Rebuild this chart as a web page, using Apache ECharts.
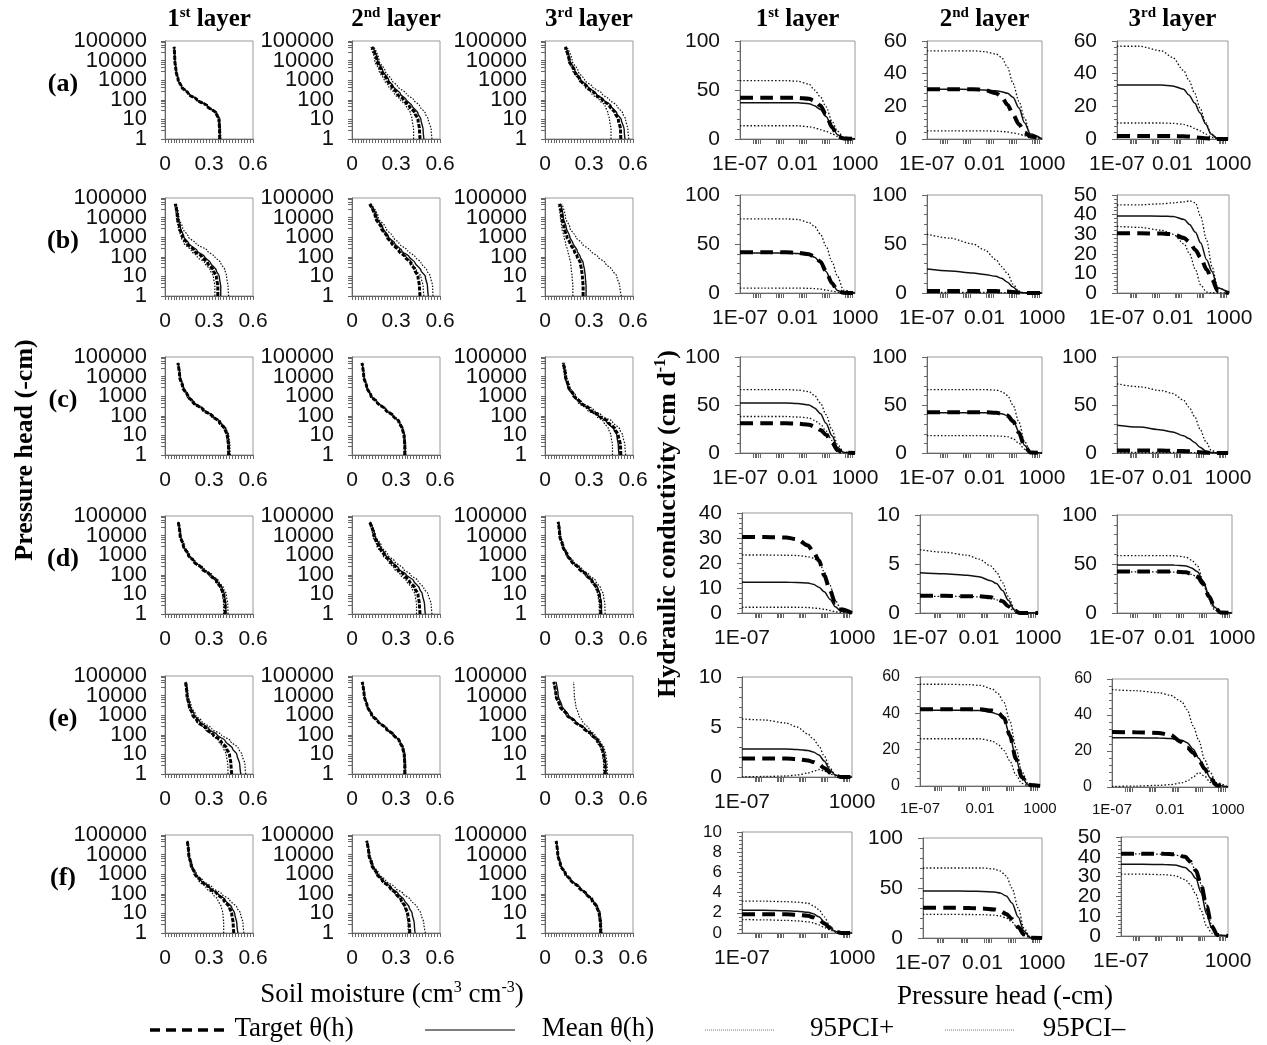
<!DOCTYPE html>
<html>
<head>
<meta charset="utf-8">
<script src="https://cdn.jsdelivr.net/npm/echarts@6/dist/echarts.min.js"></script>
<style>
  html, body { margin: 0; background: #fff; }
  #chart { width: 1267px; height: 1045px; }
</style>
</head>
<body>
<div id="chart"></div>
<script>
// pressure head samples (cm) for the theta(h) panels (left block)
var hLeft = [1, 3, 10, 20, 50, 100, 200, 500, 1000, 3000, 10000, 50000];
// pressure head samples (cm) for the K(h) panels (right block)
var hRight = [1e-7, 1e-5, 1e-3, 0.01, 0.1, 0.3, 1, 3, 10, 30, 100, 1000];
// tick labels of the pressure head axis in the theta panels
var hLeftTicks = [1, 10, 100, 1000, 10000, 100000];

// soil moisture (cm3 cm-3) at hLeft, rows a-f, layers 1-3
var thetaA1 = { target: [0.373,0.372,0.368,0.35,0.285,0.218,0.16,0.11,0.09,0.075,0.067,0.062],
                mean:   [0.376,0.375,0.37,0.352,0.288,0.22,0.162,0.112,0.091,0.076,0.068,0.063],
                upper:  [0.38,0.379,0.374,0.357,0.293,0.225,0.166,0.115,0.094,0.078,0.07,0.065],
                lower:  [0.37,0.369,0.364,0.346,0.282,0.214,0.157,0.108,0.088,0.073,0.065,0.06] };
var thetaA2 = { target: [0.464,0.46,0.45,0.43,0.39,0.35,0.31,0.27,0.24,0.2,0.17,0.136],
                mean:   [0.49,0.485,0.47,0.45,0.41,0.37,0.33,0.28,0.25,0.21,0.175,0.14],
                upper:  [0.545,0.54,0.52,0.5,0.46,0.42,0.37,0.31,0.27,0.225,0.185,0.15],
                lower:  [0.42,0.42,0.41,0.4,0.37,0.33,0.29,0.25,0.22,0.185,0.155,0.125] };
var thetaA3 = { target: [0.517,0.515,0.5,0.48,0.44,0.39,0.34,0.28,0.24,0.2,0.165,0.138],
                mean:   [0.545,0.54,0.52,0.49,0.45,0.4,0.35,0.29,0.245,0.205,0.17,0.14],
                upper:  [0.572,0.565,0.55,0.53,0.49,0.44,0.39,0.32,0.27,0.225,0.185,0.15],
                lower:  [0.45,0.45,0.44,0.43,0.41,0.37,0.32,0.27,0.23,0.19,0.16,0.13] };
var thetaB1 = { target: [0.36,0.36,0.35,0.33,0.29,0.25,0.2,0.15,0.12,0.1,0.085,0.07],
                mean:   [0.38,0.38,0.37,0.35,0.31,0.27,0.22,0.16,0.13,0.105,0.088,0.072],
                upper:  [0.434,0.43,0.42,0.41,0.38,0.34,0.29,0.21,0.16,0.12,0.095,0.078],
                lower:  [0.34,0.34,0.33,0.31,0.27,0.22,0.18,0.13,0.11,0.09,0.078,0.065] };
var thetaB2 = { target: [0.464,0.46,0.45,0.43,0.4,0.36,0.32,0.27,0.24,0.2,0.16,0.12],
                mean:   [0.52,0.515,0.5,0.47,0.43,0.39,0.34,0.29,0.25,0.21,0.17,0.125],
                upper:  [0.552,0.55,0.535,0.51,0.47,0.43,0.38,0.32,0.28,0.23,0.18,0.13],
                lower:  [0.49,0.485,0.47,0.44,0.41,0.37,0.33,0.28,0.24,0.2,0.16,0.115] };
var thetaB3 = { target: [0.26,0.26,0.255,0.25,0.24,0.22,0.2,0.17,0.15,0.13,0.115,0.1],
                mean:   [0.28,0.28,0.275,0.27,0.26,0.24,0.22,0.19,0.17,0.145,0.125,0.105],
                upper:  [0.52,0.51,0.49,0.46,0.41,0.36,0.31,0.25,0.21,0.17,0.14,0.115],
                lower:  [0.19,0.19,0.185,0.18,0.175,0.165,0.155,0.14,0.13,0.115,0.105,0.09] };
var thetaC1 = { target: [0.434,0.433,0.425,0.41,0.37,0.32,0.26,0.19,0.155,0.12,0.1,0.088],
                mean:   [0.438,0.437,0.43,0.415,0.375,0.325,0.265,0.195,0.16,0.124,0.103,0.09],
                upper:  [0.445,0.443,0.435,0.42,0.38,0.33,0.27,0.2,0.163,0.127,0.105,0.092],
                lower:  [0.43,0.428,0.42,0.405,0.365,0.315,0.255,0.185,0.15,0.117,0.097,0.085] };
var thetaC2 = { target: [0.36,0.36,0.355,0.345,0.32,0.28,0.23,0.17,0.13,0.1,0.08,0.068],
                mean:   [0.362,0.362,0.357,0.347,0.322,0.282,0.232,0.172,0.132,0.101,0.081,0.069],
                upper:  [0.366,0.366,0.36,0.35,0.326,0.286,0.236,0.175,0.135,0.103,0.083,0.071],
                lower:  [0.356,0.356,0.351,0.341,0.316,0.276,0.226,0.167,0.127,0.098,0.078,0.066] };
var thetaC3 = { target: [0.517,0.515,0.5,0.48,0.43,0.37,0.31,0.24,0.2,0.16,0.14,0.124],
                mean:   [0.505,0.5,0.49,0.47,0.42,0.365,0.305,0.235,0.195,0.158,0.138,0.122],
                upper:  [0.55,0.545,0.53,0.51,0.46,0.39,0.33,0.25,0.21,0.17,0.148,0.13],
                lower:  [0.46,0.46,0.45,0.435,0.4,0.35,0.29,0.225,0.19,0.153,0.133,0.118] };
var thetaD1 = { target: [0.41,0.41,0.4,0.385,0.35,0.305,0.255,0.195,0.16,0.125,0.103,0.09],
                mean:   [0.415,0.414,0.405,0.39,0.355,0.31,0.26,0.198,0.162,0.127,0.105,0.091],
                upper:  [0.43,0.428,0.418,0.4,0.365,0.32,0.268,0.205,0.168,0.132,0.108,0.094],
                lower:  [0.4,0.4,0.392,0.378,0.343,0.298,0.25,0.19,0.155,0.121,0.1,0.087] };
var thetaD2 = { target: [0.464,0.46,0.45,0.43,0.39,0.35,0.31,0.26,0.22,0.18,0.15,0.12],
                mean:   [0.5,0.495,0.48,0.46,0.42,0.37,0.32,0.27,0.23,0.19,0.155,0.122],
                upper:  [0.545,0.54,0.52,0.49,0.45,0.4,0.35,0.29,0.245,0.2,0.16,0.125],
                lower:  [0.44,0.44,0.43,0.41,0.37,0.33,0.29,0.245,0.21,0.17,0.142,0.115] };
var thetaD3 = { target: [0.38,0.38,0.37,0.355,0.32,0.28,0.235,0.18,0.15,0.12,0.1,0.09],
                mean:   [0.385,0.384,0.375,0.36,0.325,0.285,0.24,0.184,0.153,0.122,0.102,0.091],
                upper:  [0.41,0.408,0.398,0.38,0.345,0.3,0.252,0.193,0.16,0.128,0.107,0.095],
                lower:  [0.37,0.37,0.36,0.346,0.312,0.273,0.228,0.175,0.146,0.117,0.097,0.087] };
var thetaE1 = { target: [0.455,0.45,0.44,0.42,0.38,0.33,0.28,0.22,0.19,0.165,0.15,0.14],
                mean:   [0.517,0.51,0.49,0.46,0.41,0.355,0.3,0.235,0.2,0.17,0.153,0.142],
                upper:  [0.55,0.545,0.525,0.5,0.445,0.385,0.32,0.25,0.21,0.178,0.158,0.146],
                lower:  [0.43,0.428,0.418,0.4,0.365,0.32,0.272,0.215,0.185,0.16,0.146,0.136] };
var thetaE2 = { target: [0.36,0.36,0.356,0.347,0.322,0.283,0.235,0.175,0.135,0.103,0.083,0.07],
                mean:   [0.362,0.362,0.358,0.349,0.324,0.285,0.237,0.177,0.137,0.104,0.084,0.071],
                upper:  [0.366,0.366,0.362,0.353,0.328,0.289,0.241,0.18,0.14,0.106,0.086,0.073],
                lower:  [0.356,0.356,0.352,0.343,0.318,0.279,0.231,0.171,0.131,0.1,0.08,0.067] };
var thetaE3 = { target: [0.41,0.41,0.4,0.39,0.36,0.32,0.27,0.2,0.15,0.1,0.075,0.06],
                mean:   [0.415,0.414,0.405,0.395,0.365,0.325,0.275,0.205,0.16,0.115,0.09,0.075],
                upper:  [0.425,0.424,0.415,0.405,0.375,0.34,0.3,0.255,0.23,0.21,0.2,0.195],
                lower:  [0.4,0.4,0.392,0.38,0.35,0.31,0.26,0.19,0.145,0.1,0.072,0.058] };
var thetaF1 = { target: [0.469,0.465,0.455,0.44,0.4,0.355,0.3,0.24,0.205,0.178,0.162,0.152],
                mean:   [0.497,0.49,0.475,0.455,0.41,0.36,0.305,0.243,0.207,0.18,0.163,0.153],
                upper:  [0.538,0.532,0.515,0.49,0.44,0.385,0.325,0.255,0.215,0.185,0.167,0.156],
                lower:  [0.4,0.4,0.395,0.385,0.36,0.325,0.28,0.228,0.198,0.173,0.158,0.149] };
var thetaF2 = { target: [0.395,0.39,0.38,0.365,0.335,0.3,0.26,0.205,0.17,0.135,0.115,0.1],
                mean:   [0.43,0.425,0.41,0.39,0.355,0.315,0.27,0.212,0.175,0.138,0.117,0.101],
                upper:  [0.5,0.49,0.47,0.445,0.4,0.35,0.295,0.228,0.185,0.145,0.122,0.105],
                lower:  [0.385,0.382,0.372,0.358,0.33,0.295,0.255,0.2,0.166,0.132,0.112,0.098] };
var thetaF3 = { target: [0.38,0.378,0.37,0.355,0.32,0.28,0.235,0.175,0.14,0.105,0.087,0.076],
                mean:   [0.383,0.381,0.373,0.358,0.323,0.283,0.238,0.178,0.142,0.107,0.088,0.077],
                upper:  [0.388,0.386,0.378,0.363,0.328,0.288,0.242,0.181,0.145,0.109,0.09,0.079],
                lower:  [0.375,0.373,0.365,0.35,0.315,0.275,0.23,0.171,0.137,0.102,0.085,0.074] };

// hydraulic conductivity (cm d-1) at hRight, rows a-f, layers 1-3
var kA1 = { target: [42,42,42,42,41,39,34,25,12,3,0.5,0],
            mean:   [37,37,37,37,36,34,30,23,13,4.4,0.5,0],
            upper:  [59.5,59.5,59.5,59,56,50,43,33,18,8,2,0],
            lower:  [13.5,13.5,13.5,13.5,12.5,11.5,9.5,7.8,5.4,2.7,0.5,0] };
var kA2 = { target: [30.5,30.5,30.5,30,28,26,21,15,9,4,1.5,0],
            mean:   [30.5,30.5,30.3,30,29.5,29,28,25.5,19,10,3,0],
            upper:  [54,54,54,53.5,52,50,44,34,23,13,2,0],
            lower:  [5,5,5,5,4.8,4.6,4.3,3.7,3,2,1,0] };
var kA3 = { target: [1.8,1.8,1.8,1.8,1.7,1.5,1.2,0.8,0.4,0.1,0,0],
            mean:   [33,33,33,32.5,30.5,27,22,16,9,3,0.5,0],
            upper:  [56.8,56.8,54,50,42,36,28,19,10,3,0.5,0],
            lower:  [9.8,9.8,9.8,9.6,9,8,6.5,5,3,1.2,0.3,0] };
var kB1 = { target: [41.5,41.5,41.5,41,39.5,37,32,22,10,2.5,0.3,0],
            mean:   [40.7,40.7,40.7,40.3,39,36.5,31,22,10,2.5,0.3,0],
            upper:  [75.6,75.6,75.6,75,72,68,60,48,32,17,3,0],
            lower:  [5,5,5,5,4.8,4.5,4,3,2,0.8,0.1,0] };
var kB2 = { target: [2,2,2,2,2,1.8,1.5,1,0.5,0.2,0,0],
            mean:   [24.4,22.5,20.5,19,17,15,11,6,1,0.2,0,0],
            upper:  [60,56,50,44,34,27,20,9,1.5,0.2,0,0],
            lower:  [0.5,0.5,0.5,0.5,0.5,0.4,0.3,0.2,0.1,0,0,0] };
var kB3 = { target: [30.5,30.5,30.3,30,28,26,22,18,12,7,1,0],
            mean:   [39.3,39.3,39.2,39,37.5,35,31,25.5,17,11,2.5,0],
            upper:  [44.9,45,45.5,46,46.5,47,46,39,27,13.5,2.7,0],
            lower:  [34,33.5,32,30,25,20,12,4,0.5,0,0,0] };
var kC1 = { target: [31,31,31,30.5,29.5,27.5,24,19,11,3,0.2,0],
            mean:   [52,52,52,51.5,50,47,41,31,18,6,0.5,0],
            upper:  [66,66,66,65.5,64,60,52,40,24,9,1,0],
            lower:  [38,38,38,37.5,36.5,34,30,23,13,4,0.3,0] };
var kC2 = { target: [42.5,42.5,42.5,42.5,42,41,39,33,21,7,0.5,0],
            mean:   [42,42,42,42,41.5,41,39,34,22,8,0.5,0],
            upper:  [66,66,66,66,65.5,64,60,50,32,12,1,0],
            lower:  [18,18,18,18,17.8,17.5,17,15,10,4,0.3,0] };
var kC3 = { target: [2.5,2.5,2.5,2.3,2,1.7,1.3,0.8,0.3,0.1,0,0],
            mean:   [29,27,24,22,18,15,11,6,2,0.5,0,0],
            upper:  [72,69,65,62,55,48,38,25,12,3,0.5,0],
            lower:  [0.5,0.5,0.5,0.5,0.5,0.4,0.3,0.2,0.1,0,0,0] };
var kD1 = { target: [30.4,30.4,30.2,29.5,27,24.5,21,15,9,4,1.5,0],
            mean:   [12.3,12.3,12.3,12.2,12,11.5,10.3,8.5,5.5,2.5,0.7,0],
            upper:  [23.2,23.2,23.1,23,22.5,22,20.5,16.5,11,5,1.5,0],
            lower:  [2.3,2.3,2.3,2.3,2.2,2,1.8,1.5,1,0.5,0.2,0] };
var kD2 = { target: [1.75,1.75,1.7,1.7,1.6,1.4,1.2,0.7,0.2,0,0,0],
            mean:   [4.1,4,3.85,3.7,3.3,3,2.3,1.3,0.3,0.05,0,0],
            upper:  [6.45,6.2,5.9,5.5,4.8,4.2,3.1,1.7,0.4,0.1,0,0],
            lower:  [1.7,1.7,1.68,1.65,1.55,1.35,1.1,0.6,0.2,0,0,0] };
var kD3 = { target: [42.3,42.3,42.3,42.2,41.5,40,37,30,17,6,0.5,0],
            mean:   [49.1,49.1,49.1,49,48,46,42,33,18,6,0.5,0],
            upper:  [58.6,58.6,58.6,58.4,57,54,48,33,14,3.5,0.5,0],
            lower:  [42,42,42,41.8,41,39.5,36.5,29.5,16.5,5.5,0.5,0] };
var kE1 = { target: [1.85,1.85,1.85,1.8,1.65,1.5,1.25,0.9,0.45,0.15,0,0],
            mean:   [2.8,2.8,2.8,2.75,2.65,2.5,2.2,1.6,0.7,0.2,0,0],
            upper:  [5.8,5.7,5.4,5,4.3,3.8,3.1,2.1,0.9,0.2,0,0],
            lower:  [0.02,0.05,0.1,0.2,0.4,0.55,0.75,0.6,0.3,0.1,0,0] };
var kE2 = { target: [42.3,42.3,42.3,42.2,41.5,40.5,37.5,28,15,5,0.5,0],
            mean:   [41.7,41.7,41.7,41.5,40.5,39.5,37,28,15,5,0.5,0],
            upper:  [56,56,55.8,55.4,53.5,51,46,36,21,8,1.5,0],
            lower:  [26,26,26,26,24.8,23,19.5,14,6,1.5,0.2,0] };
var kE3 = { target: [30.5,30.4,30,29,25,22,19,15,10,5,1,0],
            mean:   [27.3,27.3,27.2,27,26,24.6,21,16,10,5,1,0],
            upper:  [54.1,53.5,52.4,51,47.5,43,34,26,15,8,2.4,0],
            lower:  [0.3,0.5,0.9,1.3,2.3,3.3,5.5,8,6,2.5,0.5,0] };
var kF1 = { target: [1.85,1.85,1.85,1.8,1.7,1.55,1.3,0.95,0.5,0.15,0,0],
            mean:   [2.25,2.25,2.2,2.15,2.05,1.9,1.6,1.1,0.5,0.15,0,0],
            upper:  [3.15,3.15,3.1,3.05,2.95,2.7,2.3,1.6,0.7,0.2,0,0],
            lower:  [1.33,1.3,1.25,1.2,1.1,1,0.8,0.55,0.3,0.1,0,0] };
var kF2 = { target: [30.2,30.2,30,29.5,28.5,27,24,19,11,3.5,0.3,0],
            mean:   [47,47,46.8,46.5,46,45,42,35,21,7,0.5,0],
            upper:  [70,70,70,70,69,67,62,50,30,10,1,0],
            lower:  [23.6,23.6,23.5,23.3,22.8,22,20,16,9,3,0.3,0] };
var kF3 = { target: [41.6,41.6,41.5,41.3,40,37.5,33,26,15,5,0.5,0],
            mean:   [36.2,36.2,36.1,35.9,34.6,32.5,29,22,11,4,0.5,0],
            upper:  [41.5,41.5,41.3,41,39.8,37.5,33,26.5,15.5,5.5,0.5,0],
            lower:  [31.2,31.2,31,30.5,28.5,26,21,13,5,1.5,0.2,0] };

// K axis: max and label step for each panel
var kMax  = [[100, 60, 60], [100, 100, 50], [100, 100, 100], [40, 10, 100], [10, 60, 60], [10, 100, 50]];
var kStep = [[50, 20, 20], [50, 50, 10], [50, 50, 50], [10, 5, 50], [5, 20, 20], [2, 50, 10]];
// whether the 0.01 label is shown on the pressure head axis
var headMid = [[1, 1, 1], [1, 1, 1], [1, 1, 1], [0, 1, 1], [0, 1, 1], [0, 1, 0]];

var rowNames = ['(a)', '(b)', '(c)', '(d)', '(e)', '(f)'];

var thetaPanels = [[thetaA1, thetaA2, thetaA3], [thetaB1, thetaB2, thetaB3], [thetaC1, thetaC2, thetaC3],
                   [thetaD1, thetaD2, thetaD3], [thetaE1, thetaE2, thetaE3], [thetaF1, thetaF2, thetaF3]];
var kPanels = [[kA1, kA2, kA3], [kB1, kB2, kB3], [kC1, kC2, kC3],
               [kD1, kD2, kD3], [kE1, kE2, kE3], [kF1, kF2, kF3]];

// ---- layout ----
var leftX = [165, 352, 545], leftW = 88;
var rowTop = [41, 198, 357, 516, 676, 835], rowH = 98;
var rightBox = [
  [[740, 41, 115, 98], [927, 41, 115, 98], [1117, 41, 111, 98]],
  [[740, 195, 115, 98], [927, 195, 115, 98], [1117, 195, 112, 98]],
  [[740, 357, 115, 96], [927, 357, 115, 96], [1117, 357, 111, 96]],
  [[742, 513, 110, 100], [920, 515, 118, 98], [1117, 515, 115, 98]],
  [[742, 677, 110, 100], [920, 677, 120, 109], [1112, 679, 116, 108]],
  [[742, 832, 110, 101], [923, 838, 119, 100], [1121, 837, 107, 99]]
];
var rightYFont = [[21, 21, 21], [21, 21, 21], [21, 21, 21], [21, 21, 21], [21, 16, 16], [17, 21, 21]];
var rightXFont = [[21, 21, 21], [21, 21, 21], [21, 21, 21], [21, 21, 21], [21, 15, 15], [21, 21, 21]];

// tick marks on the pressure head axis of the K panels: a small cluster in every second decade
var headTicks = [];
[-7, -5, -3, -1, 1].forEach(function (e) {
  [15, 20, 28, 40, 55].forEach(function (f) { headTicks.push(f * Math.pow(10, e)); });
});

var chart = echarts.init(document.getElementById('chart'));

var sans = 'Liberation Sans, Arial, sans-serif';
var serif = 'Liberation Serif, DejaVu Serif, serif';
var ink = '#111';
var axisGray = '#666';

var leftStyle = {
  lower:  { width: 1.2, type: [1.5, 1.5], color: ink },
  upper:  { width: 1.2, type: [1.5, 1.5], color: ink },
  mean:   { width: 1.4, type: 'solid', color: ink },
  target: { width: 3, type: [4, 1.5], color: '#000' }
};
var rightStyle = {
  lower:  { width: 1.3, type: [1.5, 2], color: ink },
  upper:  { width: 1.3, type: [1.5, 2], color: ink },
  mean:   { width: 1.5, type: 'solid', color: ink },
  target: { width: 4, type: [13, 7], color: '#000' }
};
var order = ['lower', 'upper', 'mean', 'target'];

var grids = [], xAxes = [], yAxes = [], series = [];

function headLabel(v) {
  var e = Math.round(Math.log(v) / Math.LN10);
  if (e < -4) return '1E-07';
  if (e < 0) return '0.01';
  return '1000';
}

// labels are split over two overlaid left axes (every other value) so that tightly packed labels all stay visible
function labelAxis(base, values, parity, withLine) {
  var ax = {};
  for (var k in base) ax[k] = base[k];
  ax.position = 'left';
  ax.offset = 0;
  ax.axisLabel = {};
  for (var k2 in base.axisLabel) ax.axisLabel[k2] = base.axisLabel[k2];
  ax.axisLabel.customValues = values.filter(function (v, i) { return i % 2 === parity; });
  if (!withLine) {
    ax.axisLine = { show: false };
    ax.axisTick = { show: false };
    ax.minorTick = { show: false };
  }
  return ax;
}

function addTheta(r, c) {
  var gi = grids.length;
  var d = thetaPanels[r][c];
  grids.push({ left: leftX[c], top: rowTop[r], width: leftW, height: rowH,
    show: true, borderColor: '#999', borderWidth: 1 });
  var xi = xAxes.length;
  xAxes.push({
    gridIndex: gi, type: 'value', min: 0, max: 0.6, interval: 0.3, position: 'bottom',
    axisLine: { lineStyle: { color: axisGray } },
    axisTick: { length: 4, lineStyle: { color: axisGray } },
    minorTick: { show: true, splitNumber: 15, length: 4, lineStyle: { color: axisGray } },
    splitLine: { show: false },
    axisLabel: { fontFamily: sans, fontSize: 21, color: ink, margin: 15,
      showMinLabel: true, showMaxLabel: true }
  });
  var yBase = {
    gridIndex: gi, type: 'log', logBase: 10, min: 1, max: 100000,
    axisLine: { lineStyle: { color: axisGray } },
    axisTick: { length: 4, lineStyle: { color: axisGray } },
    minorTick: { show: true, splitNumber: 5, length: 4, lineStyle: { color: axisGray } },
    splitLine: { show: false },
    axisLabel: { fontFamily: sans, fontSize: 22, color: ink, margin: 18,
      formatter: function (v) { return String(Math.round(v)); } }
  };
  var yi = yAxes.length;
  yAxes.push(labelAxis(yBase, hLeftTicks, 0, true));
  yAxes.push(labelAxis(yBase, hLeftTicks, 1, false));
  order.forEach(function (key) {
    series.push({
      type: 'line', xAxisIndex: xi, yAxisIndex: yi,
      data: hLeft.map(function (h, j) { return [d[key][j], h]; }),
      showSymbol: false, smooth: 0.3, smoothMonotone: 'y', silent: true,
      lineStyle: leftStyle[key]
    });
  });
}

function addK(r, c) {
  var gi = grids.length;
  var d = kPanels[r][c];
  var b = rightBox[r][c];
  grids.push({ left: b[0], top: b[1], width: b[2], height: b[3],
    show: true, borderColor: '#999', borderWidth: 1 });
  var xi = xAxes.length;
  xAxes.push({
    gridIndex: gi, type: 'log', logBase: 10, min: 1e-7, max: 1000, position: 'bottom',
    axisLine: { lineStyle: { color: axisGray } },
    axisTick: { show: true, length: 5, customValues: headTicks, lineStyle: { color: axisGray } },
    minorTick: { show: false },
    splitLine: { show: false },
    axisLabel: {
      fontFamily: sans, fontSize: rightXFont[r][c], color: ink, margin: 15,
      customValues: headMid[r][c] ? [1e-7, 0.01, 1000] : [1e-7, 1000],
      formatter: headLabel
    }
  });
  var kTicks = [];
  for (var v = 0; v <= kMax[r][c] + 1e-9; v += kStep[r][c]) kTicks.push(v);
  var yBase = {
    gridIndex: gi, type: 'value', min: 0, max: kMax[r][c], interval: kStep[r][c],
    axisLine: { show: true, lineStyle: { color: axisGray } },
    axisTick: { show: true, length: 5, lineStyle: { color: axisGray } },
    minorTick: { show: true, splitNumber: 5, length: 3, lineStyle: { color: axisGray } },
    splitLine: { show: false },
    axisLabel: { fontFamily: sans, fontSize: rightYFont[r][c], color: ink, margin: 20 }
  };
  var yi = yAxes.length;
  yAxes.push(labelAxis(yBase, kTicks, 0, true));
  yAxes.push(labelAxis(yBase, kTicks, 1, false));
  order.forEach(function (key) {
    series.push({
      type: 'line', xAxisIndex: xi, yAxisIndex: yi,
      data: hRight.map(function (h, j) { return [h, d[key][j]]; }),
      showSymbol: false, smooth: 0.3, smoothMonotone: 'x', silent: true,
      lineStyle: rightStyle[key]
    });
  });
}

for (var r = 0; r < 6; r++) {
  for (var c = 0; c < 3; c++) addTheta(r, c);
  for (var c2 = 0; c2 < 3; c2++) addK(r, c2);
}

// ---- texts ----
function boldRich(size) {
  return {
    b: { fontFamily: serif, fontWeight: 'bold', fontSize: size, lineHeight: size + 4, fill: '#000' },
    s: { fontFamily: serif, fontWeight: 'bold', fontSize: Math.round(size * 0.6), lineHeight: Math.round(size * 0.6),
         verticalAlign: 'top', fill: '#000' }
  };
}
var plainRich = {
  b: { fontFamily: serif, fontSize: 27, lineHeight: 30, fill: '#000' },
  s: { fontFamily: serif, fontSize: 16, lineHeight: 16, verticalAlign: 'top', fill: '#000' }
};
var layerNames = ['{b|1}{s|st}{b| layer}', '{b|2}{s|nd}{b| layer}', '{b|3}{s|rd}{b| layer}'];
var graphics = [];

function addText(x, y, text, rich, extra) {
  var el = { type: 'text', x: x, y: y, silent: true,
    style: { text: text, rich: rich, align: 'center', verticalAlign: 'middle' } };
  for (var k in extra) el[k] = extra[k];
  graphics.push(el);
}

for (var i = 0; i < 3; i++) {
  addText(leftX[i] + leftW / 2, 20, layerNames[i], boldRich(25));
  addText(rightBox[0][i][0] + rightBox[0][i][2] / 2, 20, layerNames[i], boldRich(25));
}
rowNames.forEach(function (n, i) {
  addText(63, rowTop[i] + 43, '{b|' + n + '}', boldRich(26));
});
addText(25, 450, '{b|Pressure head (-cm)}', boldRich(26), { rotation: Math.PI / 2 });
addText(668, 524, '{b|Hydraulic conductivity (cm d}{s|-1}{b|)}', boldRich(26), { rotation: Math.PI / 2 });
addText(392, 995, '{b|Soil moisture (cm}{s|3}{b| cm}{s|-3}{b|)}', plainRich);
addText(1005, 997, '{b|Pressure head (-cm)}', plainRich);

// legend
var legendItems = [
  { x1: 150, x2: 225, tx: 294, text: 'Target θ(h)', style: { stroke: '#000', lineWidth: 3.5, lineDash: [10, 6] } },
  { x1: 425, x2: 515, tx: 598, text: 'Mean θ(h)', style: { stroke: '#000', lineWidth: 1.2 } },
  { x1: 705, x2: 775, tx: 852, text: '95PCI+', style: { stroke: '#777', lineWidth: 1, lineDash: [1, 1] } },
  { x1: 945, x2: 1015, tx: 1084, text: '95PCI\u2013', style: { stroke: '#777', lineWidth: 1, lineDash: [1, 1] } }
];
legendItems.forEach(function (it) {
  graphics.push({ type: 'line', silent: true, shape: { x1: it.x1, y1: 1030, x2: it.x2, y2: 1030 }, style: it.style });
  addText(it.tx, 1029, '{b|' + it.text + '}', plainRich);
});

chart.setOption({
  animation: false,
  backgroundColor: '#fff',
  grid: grids,
  xAxis: xAxes,
  yAxis: yAxes,
  series: series,
  graphic: graphics
});
</script>
</body>
</html>
